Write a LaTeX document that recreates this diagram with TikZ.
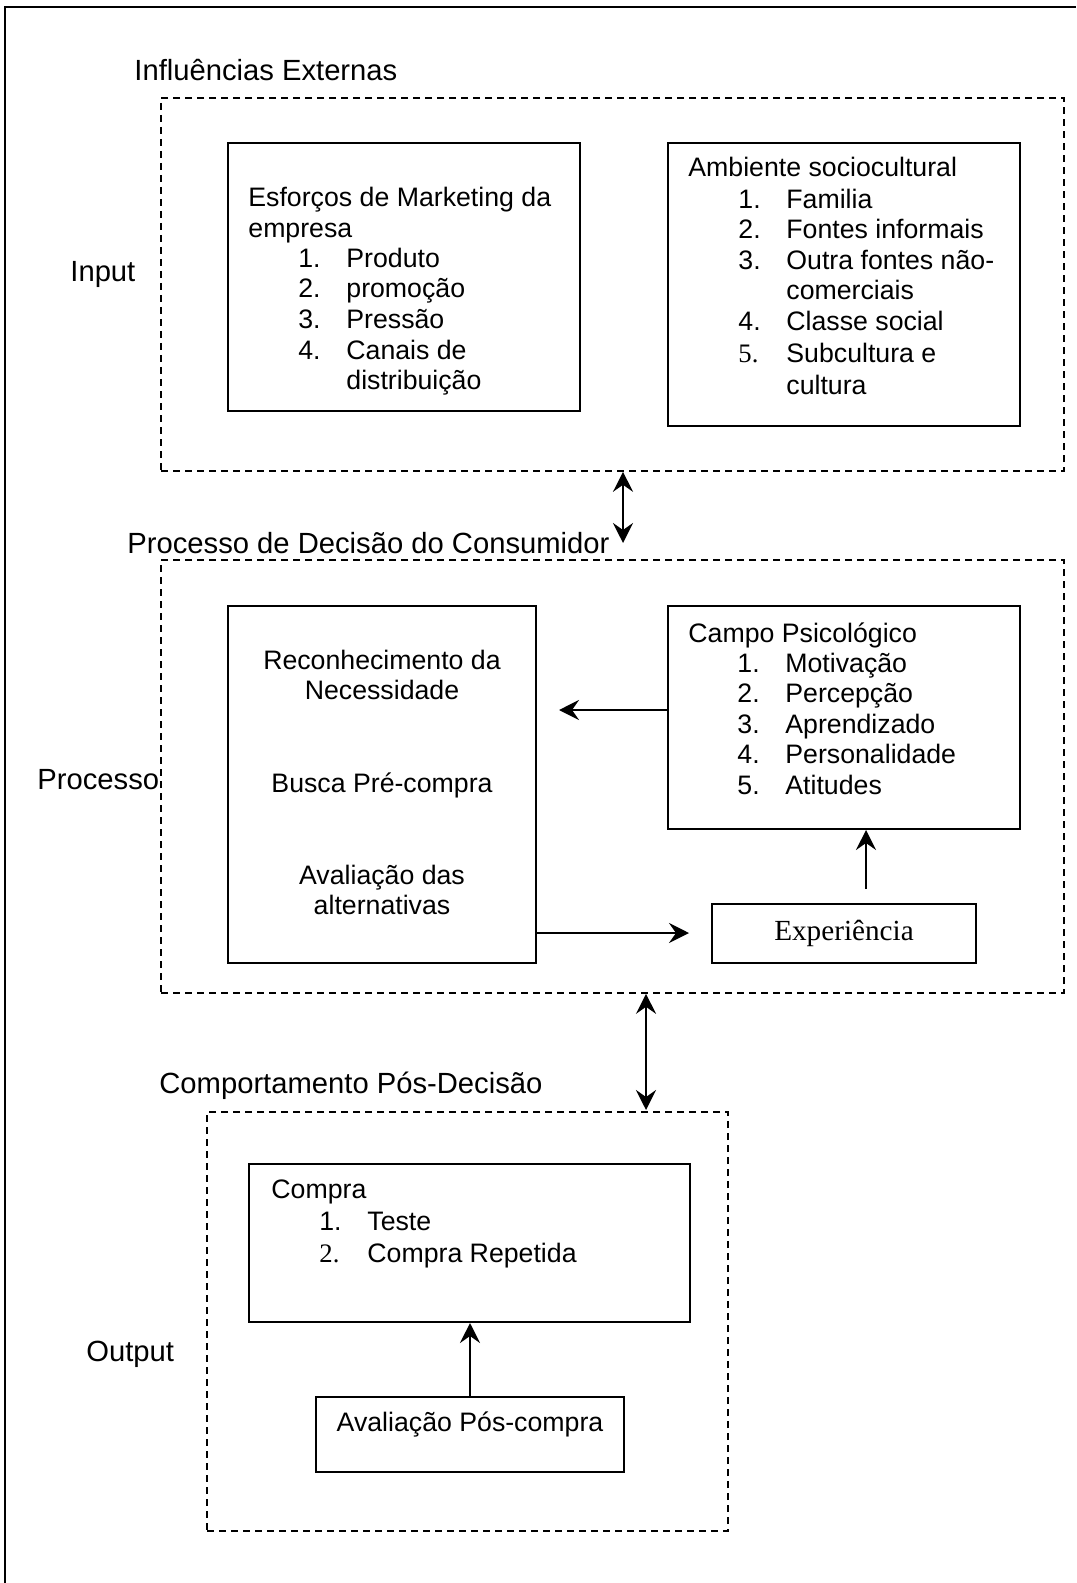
\documentclass[tikz,border=0pt]{standalone}
\usepackage{fontspec}
\setmainfont{Liberation Sans}
\newfontfamily\tms{Liberation Serif}
\usetikzlibrary{arrows.meta,fit}
\begin{document}
\begin{tikzpicture}[x=0.5pt,y=-0.5pt,
  box/.style={draw, line width=1pt, inner sep=0pt},
  dbox/.style={draw, line width=0.8pt, dash pattern=on 3.5pt off 2.5pt, inner sep=0pt},
  body/.style={font=\fontsize{13.35}{15}\selectfont, inner sep=0pt, anchor=base west},
  cbody/.style={font=\fontsize{13.35}{15}\selectfont, inner sep=0pt, anchor=base},
  lab/.style={font=\fontsize{14.6}{17}\selectfont, inner sep=0pt, anchor=base west},
  arr/.style={line width=1pt, -{Stealth[length=10pt,width=10pt,inset=3.5pt]}},
  darr/.style={line width=1pt, {Stealth[length=10pt,width=10pt,inset=3.5pt]}-{Stealth[length=10pt,width=10pt,inset=3.5pt]}}]
\useasboundingbox (0,0) rectangle (1076,1583);
% outer frame
\draw[line width=1pt] (5,1583) -- (5,7) -- (1076,7);

% group boxes
\node[dbox, fit={(161,98) (1064,471)}] (din) {};
\node[dbox, fit={(161,560) (1064,993)}] (dproc) {};
\node[dbox, fit={(207,1112) (728,1531)}] (dout) {};

% inner boxes
\node[box, fit={(228,143) (580,411)}] (esf) {};
\node[box, fit={(668,143) (1020,426)}] (amb) {};
\node[box, fit={(228,606) (536,963)}] (rec) {};
\node[box, fit={(668,606) (1020,829)}] (campo) {};
\node[box, fit={(712,904) (976,963)}] (exp) {};
\node[box, fit={(249,1164) (690,1322)}] (compra) {};
\node[box, fit={(316,1397) (624,1472)}] (aval) {};

% headings and side labels
\node[lab] (h1) at (134,81) {Influências Externas};
\node[lab] (h2) at (127,553) {Processo de Decisão do Consumidor};
\node[lab] (h3) at (159,1093) {Comportamento Pós-Decisão};
\node[lab] (l1) at (70,282) {Input};
\node[lab] (l2) at (37,789) {Processo};
\node[lab] (l3) at (86,1361) {Output};

% Esforcos
\node[body] (e0) at (248,207) {Esforços de Marketing da};
\node[body] (e1) at (248,237.5) {empresa};
\node[body] (e2n) at (298,268) {1.};
\node[body] (e2) at (346,268) {Produto};
\node[body] (e3n) at (298,298) {2.};
\node[body] (e3) at (346,298) {promoção};
\node[body] (e4n) at (298,328.5) {3.};
\node[body] (e4) at (346,328.5) {Pressão};
\node[body] (e5n) at (298,359) {4.};
\node[body] (e5) at (346,359) {Canais de};
\node[body] (e6) at (346,389) {distribuição};

% Ambiente
\node[body] (a0) at (688,177) {Ambiente sociocultural};
\node[body] (a1n) at (738,209) {1.};
\node[body] (a1) at (786,209) {Familia};
\node[body] (a2n) at (738,239) {2.};
\node[body] (a2) at (786,239) {Fontes informais};
\node[body] (a3n) at (738,270) {3.};
\node[body] (a3) at (786,270) {Outra fontes não-};
\node[body] (a4) at (786,300) {comerciais};
\node[body] (a5n) at (738,331) {4.};
\node[body] (a5) at (786,331) {Classe social};
\node[body, font=\tms\fontsize{13.35}{15}\selectfont] (a6n) at (738,363) {5.};
\node[body] (a6) at (786,363) {Subcultura e};
\node[body] (a7) at (786,394) {cultura};

% Reconhecimento box
\node[cbody] (r1) at (382,669) {Reconhecimento da};
\node[cbody] (r2) at (382,699) {Necessidade};
\node[cbody] (r3) at (382,792) {Busca Pré-compra};
\node[cbody] (r4) at (382,884) {Avaliação das};
\node[cbody] (r5) at (382,914) {alternativas};

% Campo Psicologico
\node[body] (c0) at (688,642) {Campo Psicológico};
\node[body] (c1n) at (737,672) {1.};
\node[body] (c1) at (785,672) {Motivação};
\node[body] (c2n) at (737,702.5) {2.};
\node[body] (c2) at (785,702.5) {Percepção};
\node[body] (c3n) at (737,733) {3.};
\node[body] (c3) at (785,733) {Aprendizado};
\node[body] (c4n) at (737,763.5) {4.};
\node[body] (c4) at (785,763.5) {Personalidade};
\node[body] (c5n) at (737,794) {5.};
\node[body] (c5) at (785,794) {Atitudes};

% Experiencia
\node[font=\tms\fontsize{14.6}{17}\selectfont, inner sep=0pt] (expT) at (exp.center) {Experiência};

% Compra
\node[body] (p0) at (271,1198) {Compra};
\node[body] (p1n) at (319,1230) {1.};
\node[body] (p1) at (367,1230) {Teste};
\node[body, font=\tms\fontsize{13.35}{15}\selectfont] (p2n) at (319,1262) {2.};
\node[body] (p2) at (367,1262) {Compra Repetida};

% Avaliacao Pos-compra
\node[cbody] (av) at (470,1431) {Avaliação Pós-compra};

% connectors
\coordinate (a1e) at (623,543);
\draw[darr] (a1e |- din.south) -- (a1e);
\coordinate (a2e) at (646,1110);
\draw[darr] (a2e |- dproc.south) -- (a2e);
\coordinate (a3e) at (559,710);
\draw[arr] (a3e -| campo.west) -- (a3e);
\coordinate (a4e) at (689,933);
\draw[arr] (a4e -| rec.east) -- (a4e);
\coordinate (a5s) at (866,889);
\draw[arr] (a5s) -- (a5s |- campo.south);
\coordinate (a6) at (470,1400);
\draw[arr] (a6 |- aval.north) -- (a6 |- compra.south);
\end{tikzpicture}
\end{document}
